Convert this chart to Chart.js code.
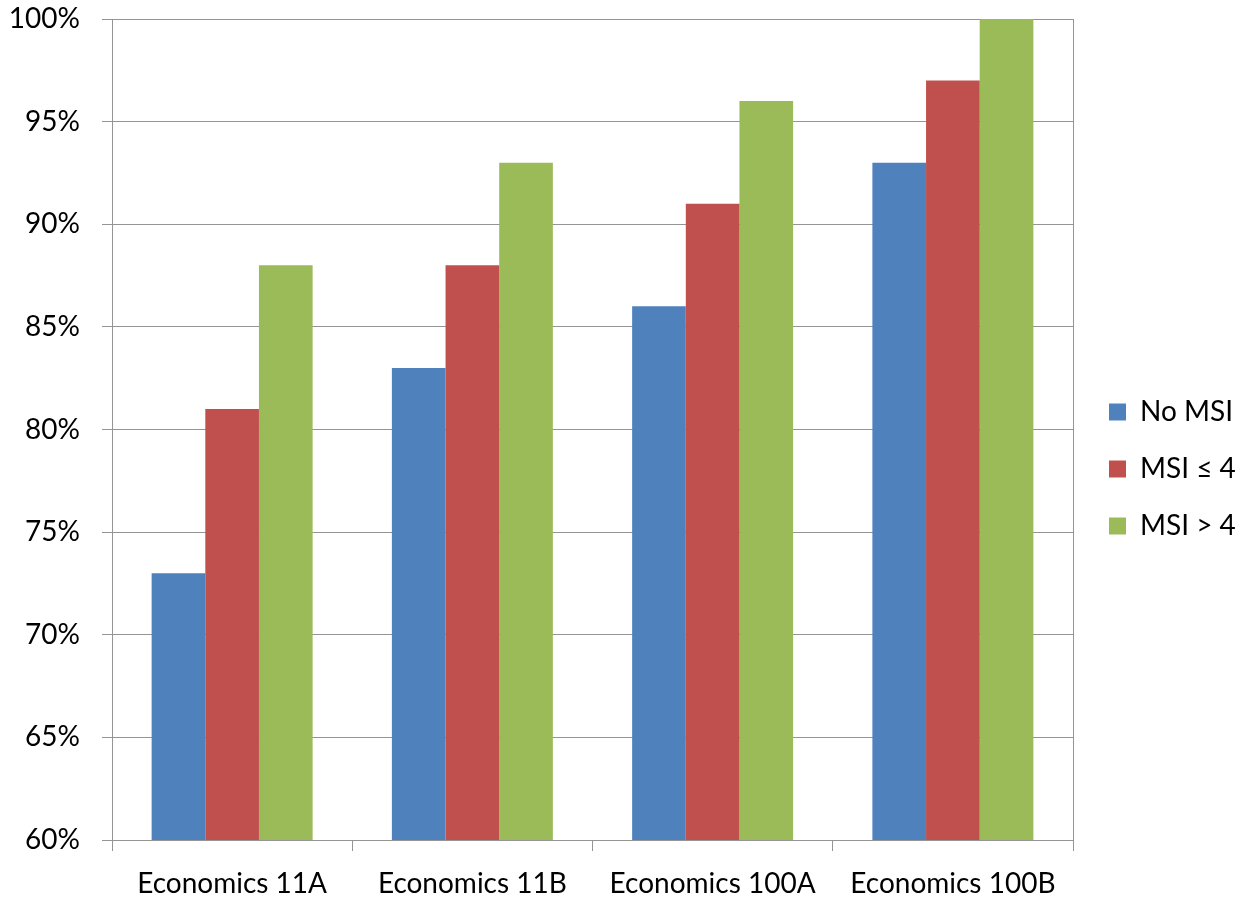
<!DOCTYPE html>
<html>
<head>
<meta charset="utf-8">
<script src="https://cdn.jsdelivr.net/npm/chart.js@4/dist/chart.umd.min.js"></script>
<style>
  html, body { margin: 0; padding: 0; background: #fff; }
  #wrap { width: 1238px; height: 898px; }
</style>
</head>
<body>
<div id="wrap"><canvas id="c" width="1238" height="898"></canvas></div>
<script>
// Courses on the category axis
const categories = ['Economics 11A', 'Economics 11B', 'Economics 100A', 'Economics 100B'];
// Share of students (%) per MSI group
const noMsi = [73, 83, 86, 93];
const msiLow = [81, 88, 91, 97];
const msiHigh = [88, 93, 96, 100];
const seriesNames = ['No MSI', 'MSI \u2264 4', 'MSI > 4'];
const seriesColors = ['#4F81BD', '#C0504D', '#9BBB59'];
// Value axis
const yMin = 60, yMax = 100, yStep = 5;

const FONT = 'Lato, "Open Sans", sans-serif';
const gridColor = '#949494';

// Fixed legend column width and a small offset for the legend block
const legendLayout = {
  id: 'legendLayout',
  afterInit(chart) {
    const lg = chart.legend;
    if (!lg) return;
    const fit = lg.fit.bind(lg);
    lg.fit = function () { fit(); this.width = 164; };
  },
  afterLayout(chart) {
    const lg = chart.legend;
    if (!lg) return;
    lg.top += 20;
    lg.bottom += 20;
    lg.left += 6;
    lg.right += 6;
  }
};

new Chart(document.getElementById('c'), {
  type: 'bar',
  plugins: [legendLayout],
  data: {
    labels: categories,
    datasets: [noMsi, msiLow, msiHigh].map((vals, i) => ({
      label: seriesNames[i],
      data: vals,
      backgroundColor: seriesColors[i],
      borderWidth: 0,
      barPercentage: 1.0,
      categoryPercentage: 0.67
    }))
  },
  options: {
    responsive: false,
    animation: false,
    devicePixelRatio: 1,
    layout: { padding: { top: 0, left: 0, right: 0, bottom: 0 } },
    plugins: {
      tooltip: { enabled: false },
      legend: {
        position: 'right',
        align: 'center',
        labels: {
          font: { family: FONT, size: 28 },
          color: '#000',
          boxWidth: 17,
          boxHeight: 17,
          padding: 29
        }
      }
    },
    scales: {
      x: {
        afterFit: (s) => { s.height = 58; },
        grid: {
          offset: true,
          drawOnChartArea: false,
          drawTicks: true,
          tickLength: 11,
          color: gridColor
        },
        border: { color: gridColor, width: 1 },
        ticks: {
          font: { family: FONT, size: 28 },
          color: '#000',
          padding: 16,
          maxRotation: 0
        }
      },
      y: {
        min: yMin,
        max: yMax,
        afterFit: (s) => { s.width = 112; s.paddingTop = 19; },
        grid: {
          color: gridColor,
          tickLength: 10
        },
        border: { color: gridColor, width: 1 },
        ticks: {
          stepSize: yStep,
          font: { family: FONT, size: 28 },
          color: '#000',
          padding: 22,
          callback: (v) => v + '%'
        }
      },
      yRight: {
        position: 'right',
        min: yMin,
        max: yMax,
        grid: { display: false, drawTicks: false },
        border: { color: gridColor, width: 1 },
        ticks: { display: false },
        afterFit: (s) => { s.width = 1; s.paddingTop = 19; }
      }
    }
  }
});
</script>
</body>
</html>
